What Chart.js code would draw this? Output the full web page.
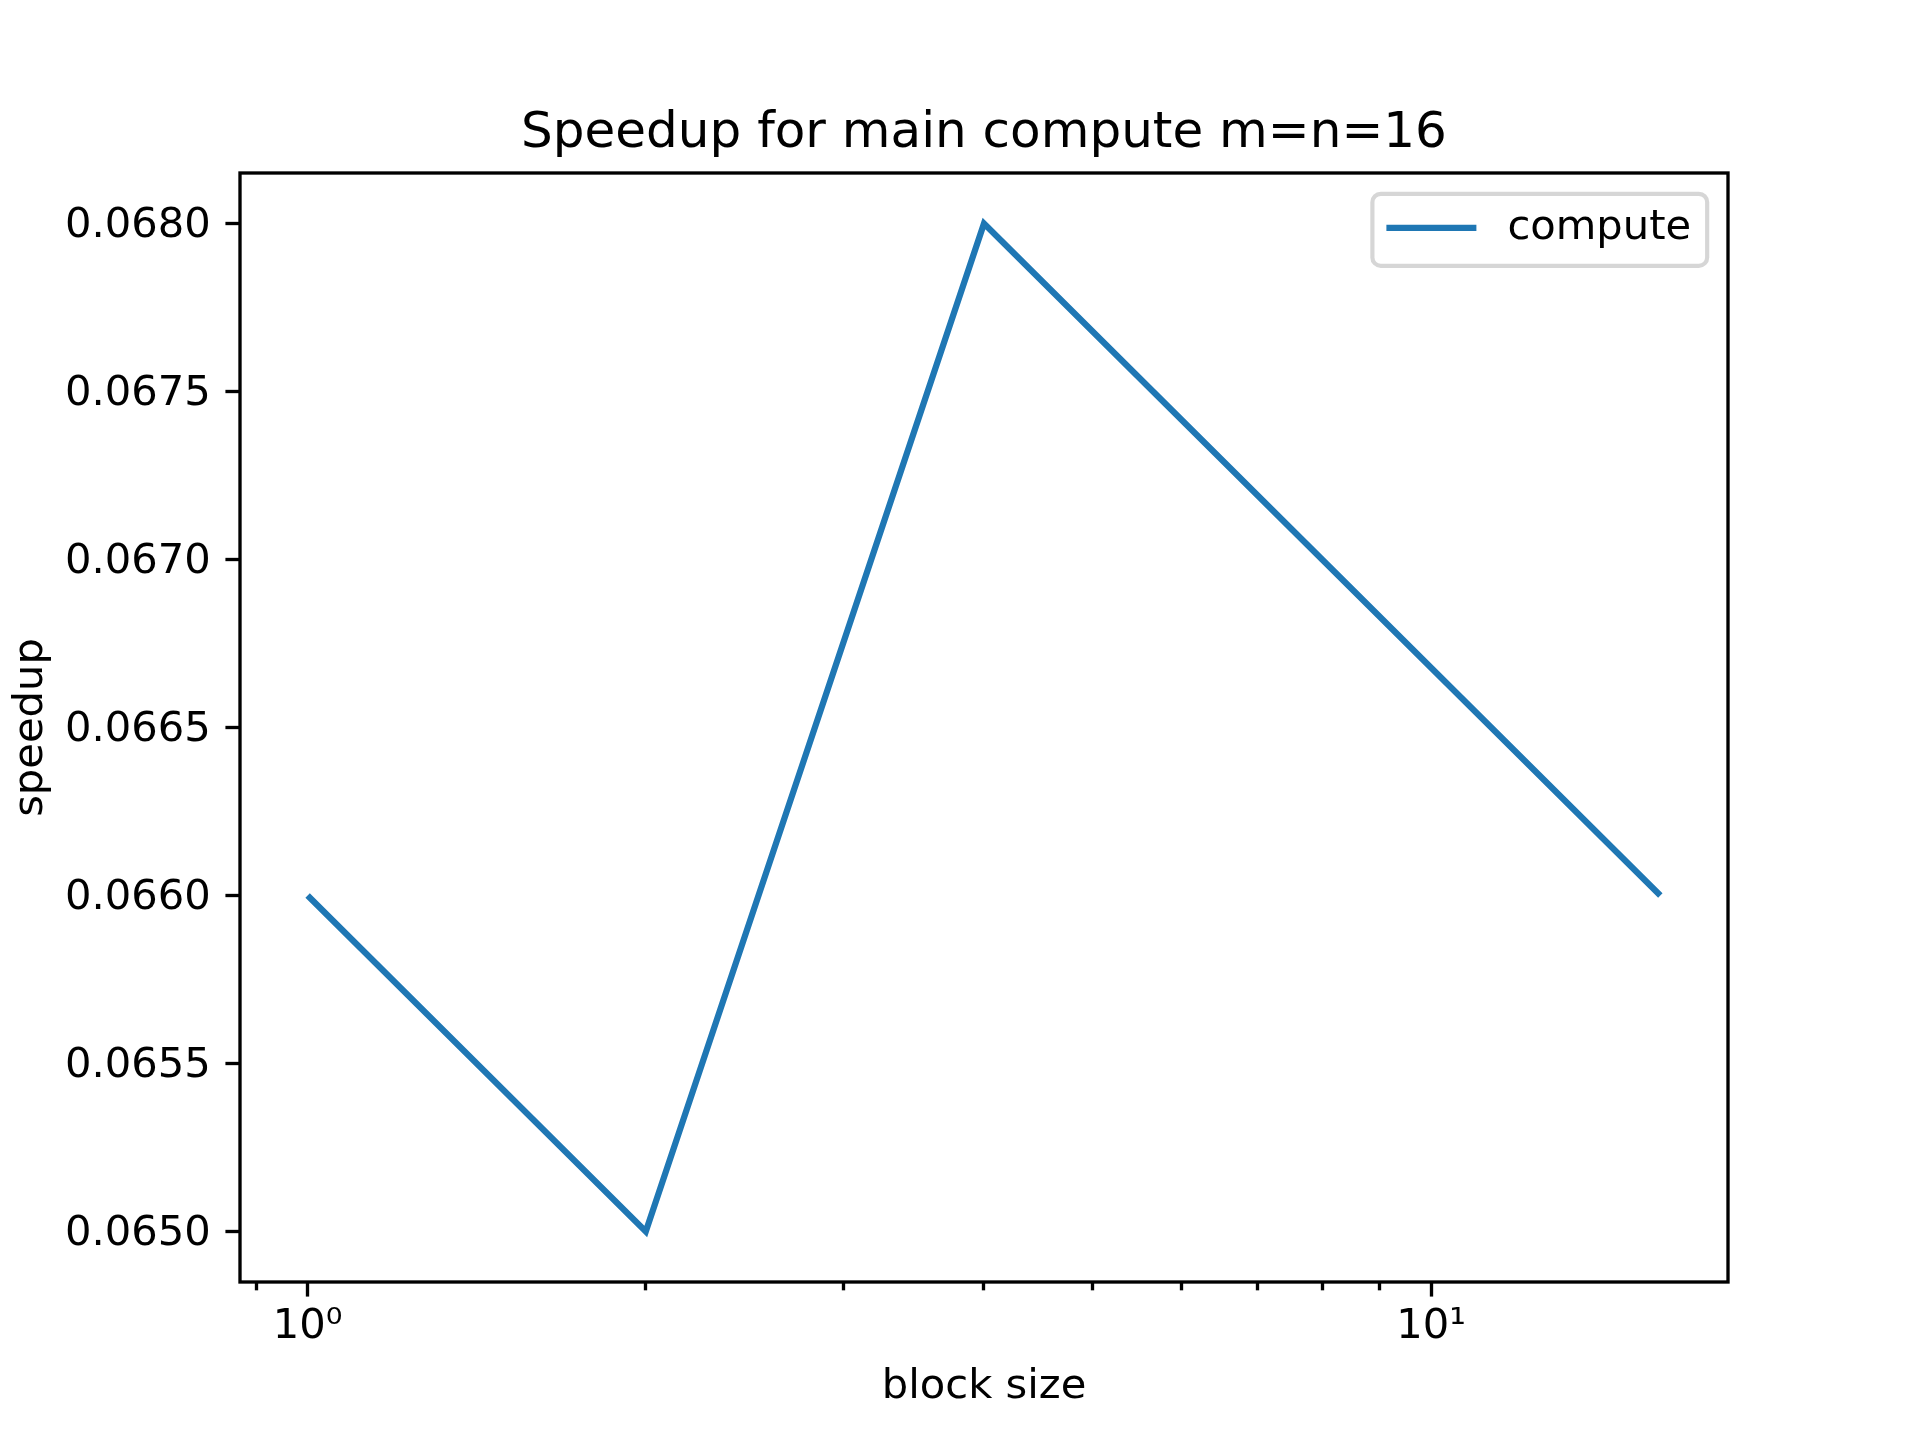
<!doctype html>
<html lang="en">
<head>
    <meta charset="UTF-8" />
    <title>Speedup for main compute m=n=16</title>
    <script src="https://cdn.jsdelivr.net/npm/chart.js"></script>
    <style>
        body { margin: 0; background: #ffffff; }
        canvas { display: block; }
    </style>
</head>
<body>
    <canvas id="myChart" width="1920" height="1440"></canvas>

    <script>
        // data
        const blockSizes = [1, 2, 4, 8, 16];
        const speedup = [0.0660, 0.0650, 0.0680, 0.0670, 0.0660];
        const seriesName = 'compute';

        const xMajorTicks = [1, 10];
        const xMinorTicks = [0.9, 2, 3, 4, 5, 6, 7, 8, 9];
        const xTickLabels = { 1: '10\u2070', 10: '10\u00b9' };
        const yTicks = [0.0650, 0.0655, 0.0660, 0.0665, 0.0670, 0.0675, 0.0680];

        const PT = 300 / 72;           // matplotlib figure was 300 dpi
        const FONT = 'DejaVu Sans';
        const lineColor = '#1f77b4';

        /* frame round the plot + legend inside the top right corner */
        const framePlugin = {
            id: 'frame',
            afterDraw(chart) {
                const c = chart.ctx;
                const a = chart.chartArea;
                c.save();
                c.strokeStyle = '#000000';
                c.lineWidth = 0.8 * PT;
                c.strokeRect(a.left, a.top, a.right - a.left, a.bottom - a.top);

                // legend
                c.font = (10 * PT) + 'px "' + FONT + '"';
                const tw = c.measureText(seriesName).width;
                const w = 135 + tw + 16;
                const h = 72;
                const x = a.right - 0.5 * 10 * PT - w;
                const y = a.top + 0.5 * 10 * PT;
                c.beginPath();
                c.roundRect(x, y, w, h, 0.2 * 10 * PT);
                c.fillStyle = 'rgba(255,255,255,0.8)';
                c.fill();
                c.strokeStyle = 'rgba(204,204,204,0.8)';
                c.lineWidth = 1.0 * PT;
                c.stroke();

                const cy = y + h / 2 - 2;
                c.beginPath();
                c.moveTo(x + 14, cy);
                c.lineTo(x + 104, cy);
                c.strokeStyle = lineColor;
                c.lineWidth = 1.5 * PT;
                c.stroke();

                c.fillStyle = '#000000';
                c.textBaseline = 'middle';
                c.textAlign = 'left';
                c.fillText(seriesName, x + 135, cy);
                c.restore();
            }
        };

        const ctx = document.getElementById('myChart');

        new Chart(ctx, {
            type: 'line',
            data: {
                datasets: [{
                    label: seriesName,
                    data: blockSizes.map((b, i) => ({ x: b, y: speedup[i] })),
                    borderColor: lineColor,
                    backgroundColor: lineColor,
                    borderWidth: 1.5 * PT,
                    pointRadius: 0,
                    tension: 0,
                    fill: false
                }]
            },
            options: {
                responsive: false,
                devicePixelRatio: 1,
                animation: false,
                layout: { padding: { left: 0, right: 192, top: 0, bottom: 0 } },
                plugins: {
                    legend: { display: false },
                    tooltip: { enabled: false },
                    title: {
                        display: true,
                        text: 'Speedup for main compute m=n=16',
                        fullSize: false,
                        color: '#000000',
                        font: { family: FONT, size: 12 * PT, weight: 'normal', lineHeight: 1.2 },
                        padding: { top: 104, bottom: 9 }
                    }
                },
                scales: {
                    x: {
                        type: 'logarithmic',
                        position: 'bottom',
                        min: 0.8706,
                        max: 18.38,
                        afterBuildTicks: function (scale) {
                            scale.ticks = xMinorTicks.concat(xMajorTicks)
                                .sort((a, b) => a - b)
                                .map(v => ({ value: v }));
                        },
                        afterFit: function (scale) { scale.height = 158; },
                        border: { display: false },
                        grid: {
                            drawOnChartArea: false,
                            drawTicks: true,
                            tickLength: 3.5 * PT,
                            tickWidth: 0.8 * PT,
                            tickColor: '#000000',
                            tickBorderDash: function (c) {
                                return (c.tick && xMajorTicks.includes(c.tick.value)) ? [] : [2 * PT, 200];
                            }
                        },
                        ticks: {
                            autoSkip: false,
                            maxRotation: 0,
                            padding: 6,
                            color: '#000000',
                            font: { family: FONT, size: 10 * PT },
                            callback: function (value) {
                                return xTickLabels[value] || '';
                            }
                        },
                        title: {
                            display: true,
                            text: 'block size',
                            color: '#000000',
                            font: { family: FONT, size: 10 * PT },
                            padding: { top: 0, bottom: 28 }
                        }
                    },
                    y: {
                        type: 'linear',
                        position: 'left',
                        min: 0.06485,
                        max: 0.06815,
                        afterBuildTicks: function (scale) {
                            scale.ticks = yTicks.map(v => ({ value: v }));
                        },
                        afterFit: function (scale) { scale.width = 240; },
                        border: { display: false },
                        grid: {
                            drawOnChartArea: false,
                            drawTicks: true,
                            tickLength: 3.5 * PT,
                            tickWidth: 0.8 * PT,
                            tickColor: '#000000'
                        },
                        ticks: {
                            padding: 3.5 * PT,
                            labelOffset: 3,
                            color: '#000000',
                            font: { family: FONT, size: 10 * PT },
                            callback: function (value) {
                                return Number(value).toFixed(4);
                            }
                        },
                        title: {
                            display: true,
                            text: 'speedup',
                            color: '#000000',
                            font: { family: FONT, size: 10 * PT },
                            padding: { top: 6, bottom: 0 }
                        }
                    }
                }
            },
            plugins: [framePlugin]
        });
    </script>
</body>
</html>
